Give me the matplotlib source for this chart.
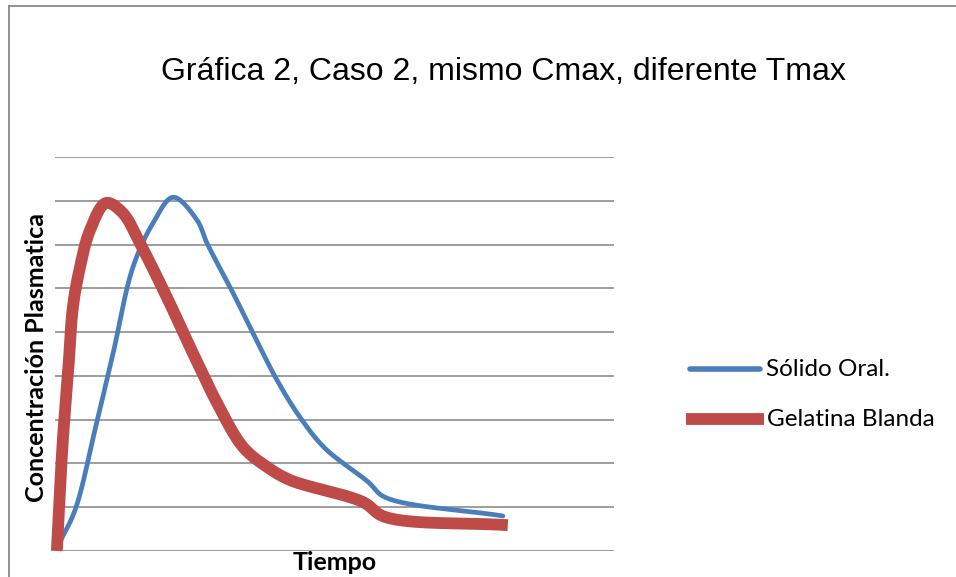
import numpy as np
import matplotlib
matplotlib.use("Agg")
import matplotlib.pyplot as plt
from matplotlib.lines import Line2D

# Data (time in arbitrary units, concentration in arbitrary units)
t_solido = [0.05, 0.54, 1.07, 1.56, 2.09, 2.63, 3.17, 3.81, 4.08, 4.78, 5.31, 5.96, 6.57, 7.24, 8.40, 8.85, 12.02]
c_solido = [0.07, 0.94, 2.76, 4.52, 6.48, 7.49, 8.08, 7.56, 7.03, 5.89, 4.98, 3.90, 3.06, 2.35, 1.58, 1.23, 0.80]

t_gelatina = [0.05, 0.21, 0.35, 0.48, 0.67, 0.94, 1.37, 1.82, 2.28, 3.00, 3.70, 4.35, 5.05, 5.69, 6.31, 8.26, 8.85, 12.15]
c_gelatina = [0.00, 2.53, 4.06, 5.57, 6.48, 7.33, 7.95, 7.72, 7.03, 5.80, 4.52, 3.38, 2.37, 1.92, 1.62, 1.12, 0.78, 0.59]

series_names = ["Sólido Oral.", "Gelatina Blanda"]
title = "Gráfica 2, Caso 2, mismo Cmax, diferente Tmax"
xlabel = "Tiempo"
ylabel = "Concentración Plasmatica"

BLUE = "#4A7EBB"
RED = "#BE4B48"
GRID = "#8C8C8C"


def smooth(ax, x, y, n=30):
    """Centripetal Catmull-Rom spline through the points, computed in display space."""
    P = ax.transData.transform(np.column_stack([x, y]))
    P = np.vstack([P[0] - (P[1] - P[0]), P, P[-1] + (P[-1] - P[-2])])
    out = []
    for i in range(1, len(P) - 2):
        p0, p1, p2, p3 = P[i - 1], P[i], P[i + 1], P[i + 2]
        t0 = 0.0
        t1 = t0 + np.linalg.norm(p1 - p0) ** 0.5 + 1e-9
        t2 = t1 + np.linalg.norm(p2 - p1) ** 0.5 + 1e-9
        t3 = t2 + np.linalg.norm(p3 - p2) ** 0.5 + 1e-9
        t = np.linspace(t1, t2, n, endpoint=False)[:, None]
        A1 = (t1 - t) / (t1 - t0) * p0 + (t - t0) / (t1 - t0) * p1
        A2 = (t2 - t) / (t2 - t1) * p1 + (t - t1) / (t2 - t1) * p2
        A3 = (t3 - t) / (t3 - t2) * p2 + (t - t2) / (t3 - t2) * p3
        B1 = (t2 - t) / (t2 - t0) * A1 + (t - t0) / (t2 - t0) * A2
        B2 = (t3 - t) / (t3 - t1) * A2 + (t - t1) / (t3 - t1) * A3
        C = (t2 - t) / (t2 - t1) * B1 + (t - t1) / (t2 - t1) * B2
        out.append(C)
    out.append(P[-2][None, :])
    out = ax.transData.inverted().transform(np.vstack(out))
    return out[:, 0], out[:, 1]


W, H = 956, 577
fig = plt.figure(figsize=(W / 100, H / 100), dpi=100)
fig.patch.set_facecolor("white")

# outer chart border (left and top visible)
fig.add_artist(Line2D([8.5 / W, 8.5 / W], [0, 1 - 5.5 / H], transform=fig.transFigure, color="#888888", lw=1.3))
fig.add_artist(Line2D([8.5 / W, 1], [1 - 5.5 / H, 1 - 5.5 / H], transform=fig.transFigure, color="#888888", lw=1.3))

ax = fig.add_axes([55 / W, (H - 551) / H, (614 - 55) / W, (551 - 157) / H])
ax.set_xlim(0, 15)
ax.set_ylim(0, 9)
ax.set_yticks(range(0, 10))
ax.set_xticks([])
ax.tick_params(axis="y", length=0, labelleft=False)
for s in ax.spines.values():
    s.set_visible(False)
ax.grid(axis="y", color=GRID, lw=1.2)
ax.set_axisbelow(True)

xs, ys = smooth(ax, t_solido, c_solido)
ax.plot(xs, ys, color=BLUE, lw=3.4, solid_capstyle="round", clip_on=False, zorder=3)
xg, yg = smooth(ax, t_gelatina, c_gelatina)
ax.plot(xg, yg, color=RED, lw=8.5, solid_capstyle="butt", solid_joinstyle="round", clip_on=False, zorder=4)

fig.text(503 / W, 1 - 72 / H, title, ha="center", va="center", fontsize=23,
         family="Liberation Sans", color="black")
fig.text(37 / W, 1 - 357 / H, ylabel, rotation=90, ha="center", va="center",
         fontsize=18, fontweight="bold", family="Lato")
fig.text(335 / W, 1 - 562 / H, xlabel, ha="center", va="center",
         fontsize=18, fontweight="bold", family="Lato")

# legend
fig.add_artist(Line2D([690 / W, 760 / W], [1 - 369 / H] * 2, transform=fig.transFigure,
                      color=BLUE, lw=4.0, solid_capstyle="round"))
fig.text(766 / W, 1 - 369 / H, series_names[0], ha="left", va="center", fontsize=17.5, family="Lato")
fig.add_artist(Line2D([686 / W, 764 / W], [1 - 419 / H] * 2, transform=fig.transFigure,
                      color=RED, lw=8.5, solid_capstyle="butt"))
fig.text(767 / W, 1 - 419 / H, series_names[1], ha="left", va="center", fontsize=17.5, family="Lato")

fig.savefig("out.png", dpi=100)
